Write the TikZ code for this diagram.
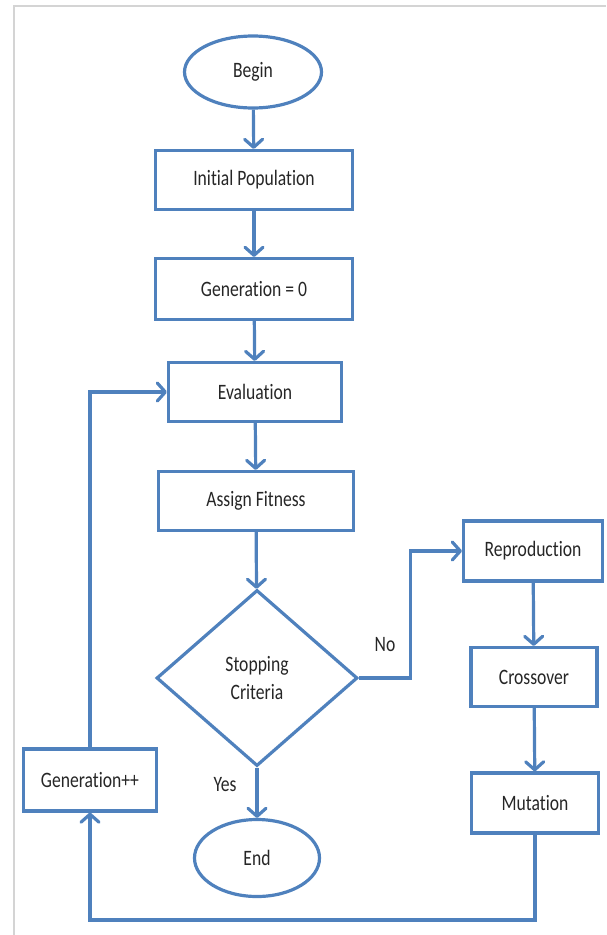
\documentclass[tikz,border=0pt]{standalone}
\usepackage{fontspec}
\setmainfont{Carlito}[FakeStretch=0.8,Ligatures=NoCommon]
\usetikzlibrary{shapes.geometric,arrows.meta}
\definecolor{bleu}{HTML}{4F81BD}
\definecolor{cadre}{HTML}{D4D4D4}
\definecolor{texte}{HTML}{262626}
\tikzset{
  proc/.style={draw=bleu, line width=3.2pt, rectangle, text=texte, inner sep=0pt},
  term/.style={draw=bleu, line width=3.2pt, ellipse, text=texte, inner sep=0pt},
  test/.style={draw=bleu, line width=3.2pt, diamond, text=texte, inner sep=0pt, align=center},
  flow/.style={draw=bleu, line width=3.2pt, -{Straight Barb[length=8pt,width=18pt,round]}},
  lbl/.style={text=texte, inner sep=0pt}
}
\begin{document}
\begin{tikzpicture}[x=1pt,y=-1pt,font=\fontsize{22}{28}\selectfont]
        \useasboundingbox (0,0) rectangle (606,935);
        \draw[cadre,line width=2pt] (14,935)--(14,6)--(606,6);
        % main column
        \node[term, minimum width=137pt, minimum height=72pt] (begin) at (253,72) {Begin};
        \node[proc, minimum width=197pt, minimum height=59pt] (init) at (254,180) {Initial Population};
        \node[proc, minimum width=197pt, minimum height=61pt] (gen0) at (254,289) {Generation = 0};
        \node[proc, minimum width=173pt, minimum height=59pt] (eval) at (255,392) {Evaluation};
        \node[proc, minimum width=195pt, minimum height=59pt] (fit) at (256,501) {Assign Fitness};
        \node[test, minimum width=201pt, minimum height=176pt] (stop) at (257,678) {Stopping\\Criteria};
        \node[term, minimum width=125pt, minimum height=77pt] (end) at (257,858) {End};
        % right column and loop box
        \node[proc, minimum width=139pt, minimum height=60pt] (repro) at (533,551) {Reproduction};
        \node[proc, minimum width=126pt, minimum height=59pt] (cross) at (534,677) {Crossover};
        \node[proc, minimum width=127pt, minimum height=60pt] (mut) at (535,803) {Mutation};
        \node[proc, minimum width=133pt, minimum height=62pt] (genpp) at (90,780) {Generation++};
        \node[lbl] (no) at (385,645) {No};
        \node[lbl] (yes) at (225,785) {Yes};
        \coordinate (bas) at (0,920);
        % connectors
        \draw[flow] (begin)--(init);
        \draw[flow] (init)--(gen0);
        \draw[flow] (gen0)--(eval);
        \draw[flow] (eval)--(fit);
        \draw[flow] (fit)--(stop);
        \draw[flow] (stop)--(end);
        \draw[flow] (stop.east)--++(51,0) |- (repro);
        \draw[flow] (repro)--(cross);
        \draw[flow] (cross)--(mut);
        \draw[flow] (mut)--(mut |- bas) -| (genpp);
        \draw[flow] (genpp) |- (eval);
\end{tikzpicture}
\end{document}
